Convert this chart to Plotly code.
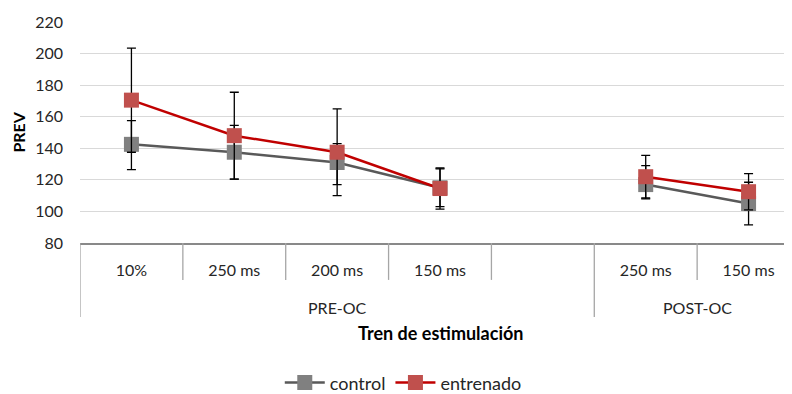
import plotly.graph_objects as go

groups = ["PRE-OC", "POST-OC"]
group_spans = [(-0.5, 4.5), (4.5, 6.5)]
stimuli = ["10%", "250 ms", "200 ms", "150 ms", "", "250 ms", "150 ms"]
x_pos = [0, 1, 2, 3, 4, 5, 6]

control = [142.5, 137.5, 131, 115, None, 117, 105]
control_err_plus = [15, 17, 12, 12, None, 12, 13.5]
control_err_minus = [16, 17, 14, 12, None, 9, 13.5]

entrenado = [170.5, 148, 137.5, 114.5, None, 122, 112.5]
entrenado_err_plus = [33, 27.5, 27.5, 13, None, 13.5, 11.5]
entrenado_err_minus = [33, 27.5, 27.5, 13, None, 13.5, 11.5]

y_ticks = [80, 100, 120, 140, 160, 180, 200, 220]

FONT = "Lato, 'Open Sans', sans-serif"
TXT = "#262626"
DIV = "#a6a6a6"

fig = go.Figure()
fig.add_trace(go.Scatter(
    x=x_pos, y=control, name="control", mode="lines+markers",
    line=dict(color="#595959", width=2.5),
    marker=dict(symbol="square", size=15, color="#808080", line=dict(width=0)),
    error_y=dict(type="data", symmetric=False, array=control_err_plus,
                 arrayminus=control_err_minus, color="black", thickness=1.3, width=4.5),
    connectgaps=False,
))
fig.add_trace(go.Scatter(
    x=x_pos, y=entrenado, name="entrenado", mode="lines+markers",
    line=dict(color="#c00000", width=2.5),
    marker=dict(symbol="square", size=15, color="#c0504d", line=dict(width=0)),
    error_y=dict(type="data", symmetric=False, array=entrenado_err_plus,
                 arrayminus=entrenado_err_minus, color="black", thickness=1.3, width=4.5),
    connectgaps=False,
))

shapes = []
# inner category dividers
for b in [0.5, 1.5, 2.5, 3.5, 5.5]:
    shapes.append(dict(type="line", xref="x", yref="paper", x0=b, x1=b, y0=0, y1=-0.167,
                       line=dict(color=DIV, width=1.3)))
# group dividers
for b in [-0.5, 4.5]:
    shapes.append(dict(type="line", xref="x", yref="paper", x0=b, x1=b, y0=0, y1=-0.335,
                       line=dict(color=DIV, width=1.3)))

annotations = []
for g, (a, b) in zip(groups, group_spans):
    annotations.append(dict(text=g, x=(a + b) / 2, y=-0.294, xref="x", yref="paper",
                            showarrow=False, font=dict(size=16, color=TXT),
                            xanchor="center", yanchor="middle"))
annotations.append(dict(text="<b>Tren de estimulación</b>", x=0.5, y=-0.407, xref="paper",
                        yref="paper", showarrow=False, font=dict(size=18, color="black"),
                        xanchor="center", yanchor="middle"))
annotations.append(dict(text="<b>PREV</b>", x=-0.086, y=0.5, xref="paper", yref="paper",
                        textangle=-90, showarrow=False, font=dict(size=16, color="black"),
                        xanchor="center", yanchor="middle"))

fig.update_layout(
    width=792, height=394,
    margin=dict(l=72, r=0, t=14, b=159),
    paper_bgcolor="white", plot_bgcolor="white",
    font=dict(family=FONT, size=16, color=TXT),
    showlegend=True,
    legend=dict(orientation="h", x=0.449, y=-0.633, xanchor="center", yanchor="middle",
                font=dict(size=18, color=TXT), itemwidth=40),
    xaxis=dict(
        range=[-0.5, 6.5], tickvals=x_pos, ticktext=stimuli,
        showline=True, linecolor="#898989", linewidth=2,
        showgrid=False, zeroline=False, ticks="", automargin=False,
        tickfont=dict(size=16, color=TXT), ticklabelstandoff=12,
    ),
    yaxis=dict(
        range=[80, 220], tickvals=y_ticks, showgrid=True, gridcolor="#d9d9d9",
        gridwidth=1.3, zeroline=False, showline=False, ticks="", automargin=False,
        tickfont=dict(size=16, color=TXT), ticklabelstandoff=16,
    ),
    shapes=shapes,
    annotations=annotations,
)

fig.write_html("out.html")
